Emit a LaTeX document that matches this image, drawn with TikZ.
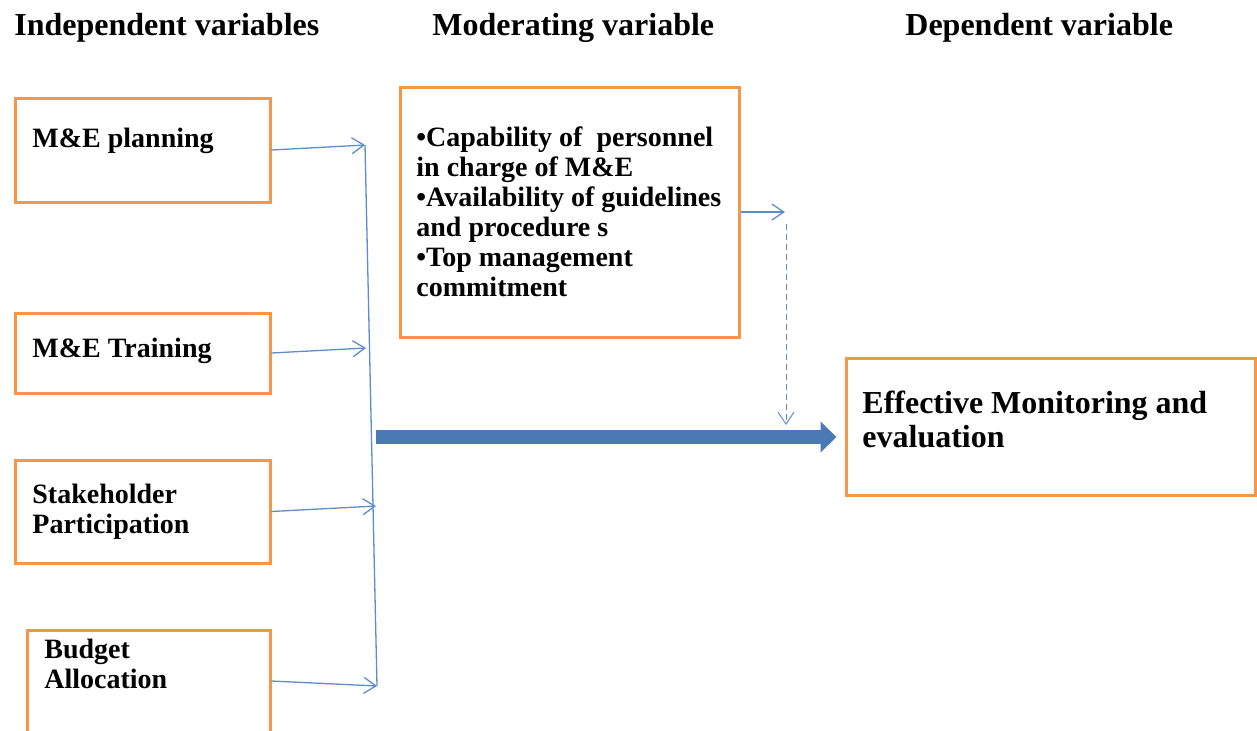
\documentclass[tikz,border=0pt]{standalone}
\usepackage{fontspec}
\setmainfont{Liberation Serif}
\usepackage{tikz}
\usetikzlibrary{positioning, arrows.meta}

\definecolor{boxorange}{RGB}{247,150,70}
\definecolor{linkblue}{RGB}{91,141,205}
\definecolor{mainblue}{RGB}{74,122,182}

\tikzset{
  varbox/.style={draw=boxorange, line width=1.5pt, inner sep=0pt},
  boxtext/.style={anchor=north west, inner sep=0pt, align=left, font=\fontsize{14}{15}\selectfont\bfseries},
  headtext/.style={anchor=base west, inner sep=0pt, font=\fontsize{16}{17}\selectfont\bfseries},
  link/.style={draw=linkblue, line width=0.65pt, -{Straight Barb[length=6pt, width=8pt]}},
}

\begin{document}
\begin{tikzpicture}[x=0.5pt, y=-0.5pt]
\useasboundingbox (0,0) rectangle (1257,730);

% Заголовки колонок
\node[headtext] (hind) at (14,35) {Independent variables};
\node[headtext] (hmod) at (432,35) {Moderating variable};
\node[headtext] (hdep) at (905,35) {Dependent variable};

% Независимые переменные
\node[varbox, minimum width=127.5pt, minimum height=52pt] (plan) at (142.5,150) {};
\node[varbox, minimum width=127.5pt, minimum height=40pt] (train) at (142.5,353) {};
\node[varbox, minimum width=127.5pt, minimum height=51.5pt] (stake) at (142.5,511.5) {};
\node[varbox, minimum width=121.5pt, minimum height=51pt] (budget) at (148.5,681) {};

\node[boxtext] (tplan) at (32,128) {M\&E planning};
\node[boxtext] (ttrain) at (32,338) {M\&E Training};
\node[boxtext] (tstake) at (32,484) {Stakeholder\\Participation};
\node[boxtext] (tbudget) at (44,639) {Budget\\Allocation};

% Модерирующая переменная
\node[varbox, minimum width=169.5pt, minimum height=125pt] (moder) at (569.5,212) {};
\node[boxtext] (tmoder) at (416,126) {\textbullet Capability of\ \ personnel\\in charge of M\&E\\\textbullet Availability of guidelines\\and procedure s\\\textbullet Top management\\commitment};

% Зависимая переменная
\node[varbox, minimum width=204.5pt, minimum height=68.5pt] (dep) at (1050.5,426.5) {};
\node[boxtext, font=\fontsize{16}{17}\selectfont\bfseries] (tdep) at (862,391) {Effective Monitoring and\\evaluation};

% Общая линия сбора
\coordinate (bustop) at (365,145);
\coordinate (bustrain) at (366,348);
\coordinate (busstake) at (376,506);
\coordinate (busbot) at (377,686);
\coordinate (busmid) at (376,437);
\draw[draw=linkblue, line width=0.65pt] (bustop) -- (busbot);

% Стрелки от переменных
\draw[link] (plan.east) -- (bustop);
\draw[link] (train.east) -- (bustrain);
\draw[link] (stake.east) -- (busstake);
\draw[link] (budget.east) -- (busbot);

% Влияние модератора
\coordinate (modend) at (785,212);
\coordinate (dottop) at (786,224);
\coordinate (dotbot) at (786,425);
\draw[link] (moder.east) -- (modend);
\draw[link, densely dashed, line width=0.5pt] (dottop) -- (dotbot);

% Главная стрелка
\draw[draw=mainblue, line width=7pt, shorten >=4pt, -{Triangle[length=8pt, width=15pt]}] (busmid) -- (busmid -| dep.west);

\end{tikzpicture}
\end{document}
